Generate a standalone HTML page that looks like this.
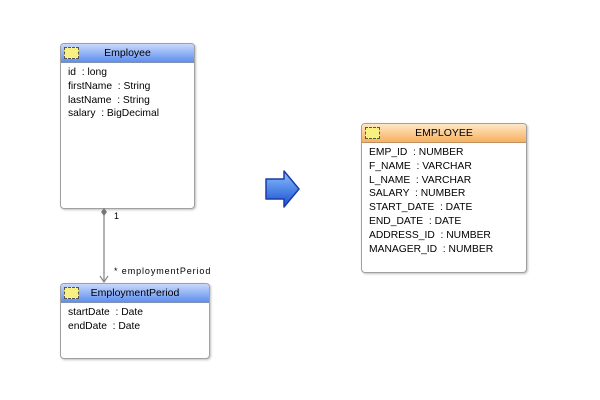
<!DOCTYPE html>
<html><head><style>
body{margin:0;width:600px;height:400px;background:#fff;position:relative;font-family:"Liberation Sans",sans-serif;font-size:10.3px;color:#000;overflow:hidden}
.box{position:absolute;box-sizing:border-box;border:1px solid #a0a0a0;border-radius:4px;background:#fff;box-shadow:1px 1px 2px rgba(0,0,0,.25)}
.hd{height:18px;border-bottom:1px solid #8090b0;border-radius:3px 3px 0 0;background:linear-gradient(#c8d8fa,#5f8ff0);text-align:center;line-height:18px;font-size:10.5px;position:relative}
.hd.or{background:linear-gradient(#fde8c8,#f7b060);border-bottom-color:#c09060}
.ic{position:absolute;left:3px;top:3px;width:13px;height:10px;border:1px dashed #555;background:#f8f080}
.rows{padding:3px 0 0 7px;line-height:13.8px;white-space:pre}
.t{position:absolute;white-space:pre}
</style></head><body>
<div class="box" style="left:60px;top:43px;width:135px;height:166px">
<div class="hd"><span class="ic"></span>Employee</div>
<div class="rows">id  : long
firstName  : String
lastName  : String
salary  : BigDecimal</div></div>

<div class="box" style="left:60px;top:283px;width:150px;height:76px">
<div class="hd"><span class="ic"></span>EmploymentPeriod</div>
<div class="rows">startDate  : Date
endDate  : Date</div></div>

<div class="box" style="left:361px;top:123px;width:166px;height:150px">
<div class="hd or"><span class="ic"></span>EMPLOYEE</div>
<div class="rows">EMP_ID  : NUMBER
F_NAME  : VARCHAR
L_NAME  : VARCHAR
SALARY  : NUMBER
START_DATE  : DATE
END_DATE  : DATE
ADDRESS_ID  : NUMBER
MANAGER_ID  : NUMBER</div></div>

<svg style="position:absolute;left:0;top:0" width="600" height="400">
<line x1="104" y1="209" x2="104" y2="282" stroke="#888" stroke-width="1.3"/>
<polygon points="104,208 107,212 104,216 101,212" fill="#777"/>
<polyline points="100,276 104,282 108,276" fill="none" stroke="#888" stroke-width="1.2"/>
<defs><linearGradient id="g" x1="0" y1="0" x2="0" y2="1"><stop offset="0" stop-color="#8fc0ff"/><stop offset="1" stop-color="#1450d0"/></linearGradient></defs>
<polygon points="266,179 284,179 284,171 299,189 284,207 284,199 266,199" fill="url(#g)" stroke="#1c3aa8" stroke-width="1.5" stroke-linejoin="round"/>
</svg>
<div class="t" style="left:114px;top:211px;font-size:9px">1</div>
<div class="t" style="left:114px;top:266px;font-size:9px;letter-spacing:.9px">* employmentPeriod</div>
</body></html>
